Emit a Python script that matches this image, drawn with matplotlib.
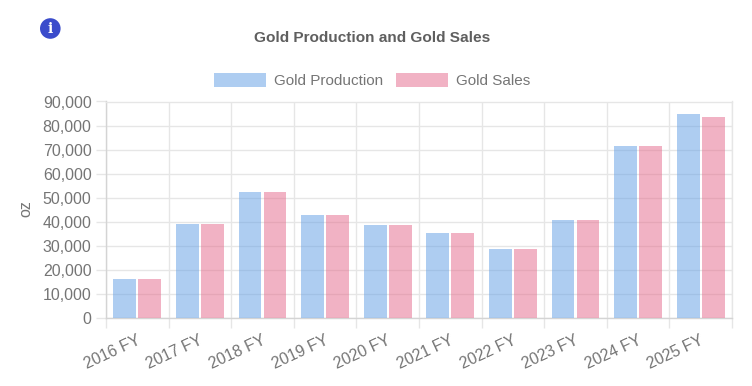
import numpy as np
import matplotlib
matplotlib.use("Agg")
import matplotlib.pyplot as plt
from matplotlib.patches import Circle

categories = ["2016 FY", "2017 FY", "2018 FY", "2019 FY", "2020 FY",
              "2021 FY", "2022 FY", "2023 FY", "2024 FY", "2025 FY"]
gold_production = [16300, 39100, 52300, 43000, 38700, 35400, 28800, 40900, 71400, 84700]
gold_sales = [16300, 39100, 52300, 43000, 38700, 35400, 28800, 40900, 71400, 83700]
y_ticks = [0, 10000, 20000, 30000, 40000, 50000, 60000, 70000, 80000, 90000]

plt.rcParams["font.family"] = ["Liberation Sans", "DejaVu Sans"]
W, H = 752, 386
GREY = "#757575"
GRID = "#e6e6e6"

fig = plt.figure(figsize=(W / 100, H / 100), dpi=100)
# plot area in pixels: 106..732, 101.5..318.3
ax = fig.add_axes([106 / W, 1 - 318.3 / H, (732 - 106) / W, (318.3 - 101.5) / H])

x = np.arange(len(categories))
ax.bar(x - 0.2, gold_production, width=0.365, color="#5f9de5", alpha=0.5,
       label="Gold Production", zorder=3)
ax.bar(x + 0.2, gold_sales, width=0.365, color="#e5678a", alpha=0.5,
       label="Gold Sales", zorder=3)

ax.set_xlim(-0.5, len(categories) - 0.5)
ax.set_ylim(0, 90000)
ax.set_yticks(y_ticks)
ax.set_yticklabels([f"{v:,}" for v in y_ticks])
ax.set_xticks(x - 0.015)
ax.set_xticklabels(categories, rotation=25, ha="right", rotation_mode="anchor")
ax.set_xticks(np.arange(len(categories) + 1) - 0.5, minor=True)

ax.tick_params(axis="y", length=7.2, width=1.0, color=GRID, labelcolor=GREY,
               labelsize=11.5, pad=3.2)
ax.tick_params(axis="x", which="major", length=0, labelcolor=GREY,
               labelsize=11.5, pad=10.5)
ax.tick_params(axis="x", which="minor", length=7.2, width=1.0, color=GRID)
ax.grid(True, axis="y", color=GRID, lw=1.0, zorder=0)
ax.grid(True, axis="x", which="minor", color=GRID, lw=1.0, zorder=0)
ax.set_axisbelow(True)
for side in ax.spines:
    ax.spines[side].set_color(GRID)
    ax.spines[side].set_linewidth(1.0)
ax.spines["left"].set_color("#d4d4d4")
ax.spines["bottom"].set_color("#d4d4d4")

fig.text(26 / W, 1 - 209 / H, "oz", rotation=90, ha="center", va="center",
         color=GREY, fontsize=11.5)
fig.text(372 / W, 1 - 37.5 / H, "Gold Production and Gold Sales", ha="center", va="center",
         color="#5f5f5f", fontsize=11.1, fontweight="bold")

ax.legend(loc="center", bbox_to_anchor=((372 - 106) / (732 - 106), (318.3 - 80.5) / (318.3 - 101.5)),
          ncols=2, frameon=False, fontsize=11, labelcolor=GREY,
          handlelength=3.4, handleheight=1.1, handletextpad=0.52, columnspacing=0.88)

# info icon, top left (dpi_scale_trans keeps it round)
fig.add_artist(Circle((0.503, (H - 28.5) / 100), 0.103, transform=fig.dpi_scale_trans,
                      color="#3b4ccb", ec="none"))
fig.text(50.3 / W, 1 - 29 / H, "i", ha="center", va="center", color="white",
         fontsize=10, fontweight="bold", family=["DejaVu Serif"])

fig.savefig("out.png", dpi=100)
